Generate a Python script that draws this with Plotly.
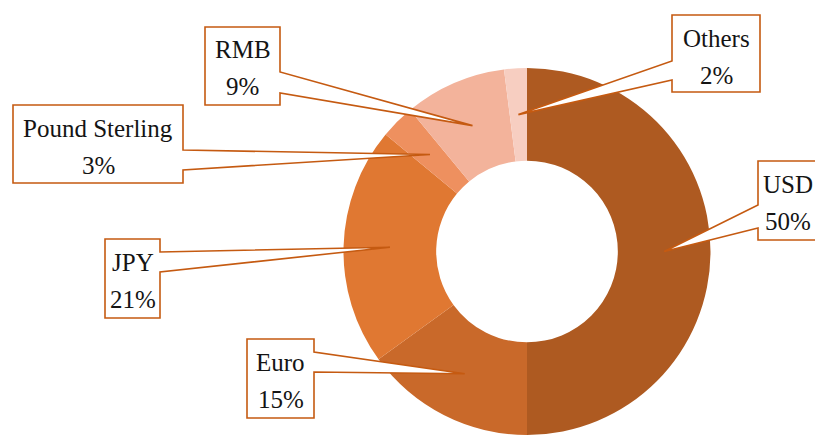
import plotly.graph_objects as go
import math

# ---- data ----
currencies = ["USD", "Euro", "JPY", "Pound Sterling", "RMB", "Others"]
shares = [50, 15, 21, 3, 9, 2]
pct_labels = ["50%", "15%", "21%", "3%", "9%", "2%"]
colors = ["#AE5A21", "#C9692A", "#E07832", "#EE905F", "#F3B39B", "#F7CEC1"]

# ---- layout constants (pixels) ----
W, H = 815, 435
HOLE = 0.495
DOM_X = [343.5 / W, 710.5 / W]
DOM_Y = [0.0, 1 - 68 / H]
BORDER = "#C55A11"
FONT = "Liberation Serif"

# callout boxes: x0, x1, y0 (top), y1 (bottom), side of wedge, wedge base y0/y1, text centre x
boxes = {
    "USD":            dict(x0=758, x1=830, y0=161, y1=240, side="L", b0=205, b1=228, tx=788),
    "Euro":           dict(x0=247, x1=314, y0=339, y1=418, side="R", b0=352, b1=372, tx=280.5),
    "JPY":            dict(x0=105, x1=160, y0=239, y1=318, side="R", b0=252, b1=272, tx=132.5),
    "Pound Sterling": dict(x0=13,  x1=183, y0=105, y1=183, side="R", b0=150, b1=170, tx=98),
    "RMB":            dict(x0=205, x1=280, y0=27,  y1=105, side="R", b0=72,  b1=93,  tx=242.5),
    "Others":         dict(x0=672, x1=760, y0=15,  y1=92,  side="L", b0=61,  b1=80,  tx=716),
}

def px(x):
    return x / W

def py(y):
    return 1 - y / H

fig = go.Figure(go.Pie(
    labels=currencies, values=shares, hole=HOLE, sort=False,
    direction="clockwise", rotation=0,
    marker=dict(colors=colors, line=dict(width=0)),
    textinfo="none", hoverinfo="label+percent",
    domain=dict(x=DOM_X, y=DOM_Y), showlegend=False,
))

# pie geometry in pixels
cx = (DOM_X[0] + DOM_X[1]) / 2 * W
cy = (1 - (DOM_Y[0] + DOM_Y[1]) / 2) * H
R = min((DOM_X[1] - DOM_X[0]) * W, (DOM_Y[1] - DOM_Y[0]) * H) / 2
RM = R * (1 + HOLE) / 2
total = sum(shares)

shapes = []
annotations = []
cum = 0
for name, val, pct in zip(currencies, shares, pct_labels):
    theta = 2 * math.pi * (cum + val / 2) / total
    cum += val
    tipx = cx + RM * math.sin(theta)
    tipy = cy - RM * math.cos(theta)
    b = boxes[name]
    x0, x1, y0, y1 = px(b["x0"]), px(b["x1"]), py(b["y0"]), py(b["y1"])
    w0, w1 = py(b["b0"]), py(b["b1"])
    tx, ty = px(tipx), py(tipy)
    if b["side"] == "R":
        path = (f"M {x0},{y0} L {x1},{y0} L {x1},{w0} L {tx},{ty} L {x1},{w1} "
                f"L {x1},{y1} L {x0},{y1} Z")
    else:
        path = (f"M {x0},{y0} L {x1},{y0} L {x1},{y1} L {x0},{y1} L {x0},{w1} "
                f"L {tx},{ty} L {x0},{w0} Z")
    shapes.append(dict(type="path", path=path, xref="paper", yref="paper",
                       fillcolor="white", line=dict(color=BORDER, width=1.6),
                       layer="above"))
    annotations.append(dict(x=px(b["tx"]), y=py(b["y0"] + 23), xref="paper", yref="paper",
                            text=name, showarrow=False, xanchor="center", yanchor="middle",
                            font=dict(family=FONT, size=25, color="#141414")))
    annotations.append(dict(x=px(b["tx"]), y=py(b["y0"] + 60), xref="paper", yref="paper",
                            text=pct, showarrow=False, xanchor="center", yanchor="middle",
                            font=dict(family=FONT, size=25, color="#141414")))

fig.update_layout(
    width=W, height=H,
    margin=dict(l=0, r=0, t=0, b=0),
    paper_bgcolor="white", plot_bgcolor="white",
    shapes=shapes, annotations=annotations,
)

fig.write_html("out.html", config={"displayModeBar": False},
               post_script="document.body.style.margin='0';document.body.style.overflow='hidden';")
